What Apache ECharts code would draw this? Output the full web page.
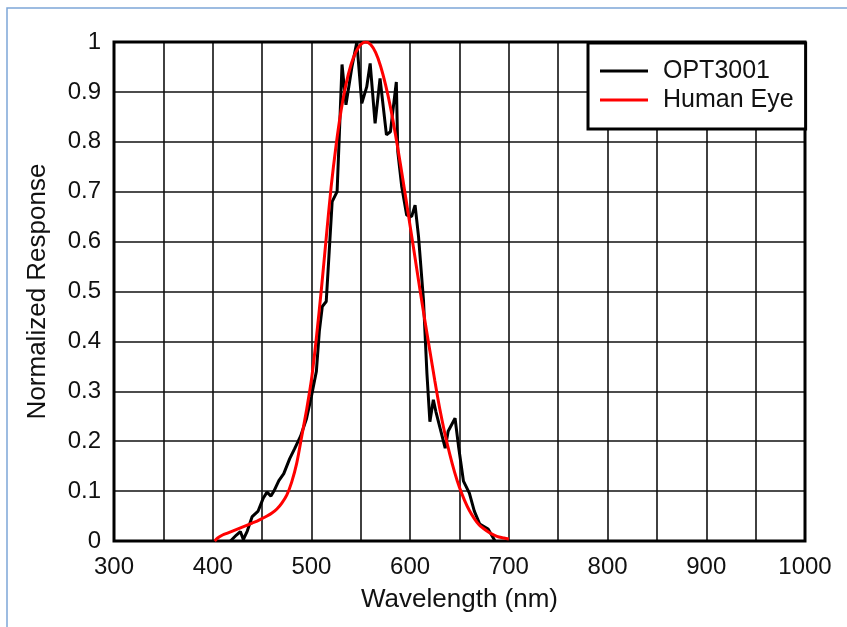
<!DOCTYPE html>
<html>
<head>
<meta charset="utf-8">
<script src="https://cdn.jsdelivr.net/npm/echarts@6/dist/echarts.min.js"></script>
<style>html,body{margin:0;padding:0;background:#fff;}#c{width:847px;height:627px;}</style>
</head>
<body>
<div id="c"></div>
<script>
// OPT3001 measured response (wavelength nm, normalized value)
const optWavelength = [418, 424, 428, 431, 435, 440, 446, 451, 455, 459, 462, 467, 472, 478, 483, 489, 495, 500, 505, 508, 511, 515, 518, 521, 526, 528, 531, 535, 541, 546, 551, 556, 559.5, 564.5, 569.5, 576, 580, 586, 587.5, 591.5, 596.5, 601.5, 605, 608.5, 613.5, 617, 620, 623.5, 626, 635.5, 638.5, 645.5, 649, 654, 660, 665, 670.5, 679, 686];
const optResponse   = [0.0, 0.012, 0.019, 0.003, 0.02, 0.049, 0.06, 0.085, 0.098, 0.09, 0.1, 0.121, 0.135, 0.165, 0.185, 0.21, 0.245, 0.29, 0.34, 0.42, 0.47, 0.48, 0.58, 0.68, 0.70, 0.80, 0.955, 0.874, 0.95, 1.0, 0.877, 0.91, 0.957, 0.837, 0.927, 0.814, 0.82, 0.92, 0.78, 0.71, 0.653, 0.65, 0.673, 0.61, 0.483, 0.336, 0.239, 0.283, 0.26, 0.186, 0.22, 0.246, 0.19, 0.12, 0.096, 0.06, 0.034, 0.024, 0.0];
// Human eye (photopic) response
const eyeWavelength = [402, 405, 410, 415, 420, 425, 430, 435, 440, 445, 450, 455, 460, 465, 470, 475, 480, 485, 490, 495, 500, 505, 510, 515, 520, 525, 530, 535, 540, 545, 550, 555, 560, 565, 570, 575, 580, 585, 590, 595, 600, 605, 610, 615, 620, 625, 630, 635, 640, 645, 650, 655, 660, 665, 670, 675, 680, 685, 690, 695, 700];
const eyeResponse   = [0.0, 0.006, 0.012, 0.016, 0.02, 0.024, 0.028, 0.032, 0.036, 0.04, 0.045, 0.05, 0.056, 0.064, 0.076, 0.092, 0.118, 0.155, 0.208, 0.262, 0.323, 0.407, 0.503, 0.608, 0.71, 0.793, 0.862, 0.915, 0.954, 0.98, 0.995, 1.0, 0.995, 0.979, 0.952, 0.915, 0.87, 0.816, 0.757, 0.695, 0.631, 0.567, 0.503, 0.441, 0.381, 0.321, 0.265, 0.217, 0.175, 0.138, 0.107, 0.082, 0.061, 0.045, 0.032, 0.024, 0.017, 0.012, 0.008, 0.006, 0.004];
const xTicks = [300, 400, 500, 600, 700, 800, 900, 1000];
const seriesNames = ['OPT3001', 'Human Eye'];

const FONT = 'Liberation Sans, Arial, sans-serif';
const chart = echarts.init(document.getElementById('c'), null, {renderer: 'canvas'});
const zip = (a, b) => a.map((v, i) => [v, b[i]]);
chart.setOption({
  animation: false,
  backgroundColor: '#fff',
  graphic: [{
    type: 'rect', shape: {x: 7, y: 8, width: 900, height: 700},
    style: {fill: 'none', stroke: '#7ea7d8', lineWidth: 1.5}, z: -1
  }],
  grid: {left: 114, right: 42, top: 42, bottom: 86, show: true, borderColor: '#000', borderWidth: 3, backgroundColor: 'transparent', z: 3},
  legend: {
    data: seriesNames, orient: 'vertical', left: 588, top: 43,
    padding: [15, 12, 16, 12], itemWidth: 48, itemHeight: 3, itemGap: 3, icon: 'rect',
    borderColor: '#000', borderWidth: 3, backgroundColor: '#fff',
    textStyle: {fontFamily: FONT, fontSize: 25, color: '#111', lineHeight: 26, padding: [0, 0, 0, 10]}
  },
  xAxis: {
    type: 'value', min: 300, max: 1000, interval: 50,
    name: 'Wavelength (nm)', nameLocation: 'middle', nameGap: 46,
    nameTextStyle: {fontFamily: FONT, fontSize: 26, color: '#111'},
    axisLine: {show: false}, axisTick: {show: false},
    axisLabel: {margin: 14, fontFamily: FONT, fontSize: 24, color: '#111',
      formatter: v => xTicks.includes(v) ? String(v) : ''},
    splitLine: {show: true, lineStyle: {color: '#111', width: 1.6}}
  },
  yAxis: {
    type: 'value', min: 0, max: 1, interval: 0.1,
    name: 'Normalized Response', nameLocation: 'middle', nameGap: 63, nameRotate: 90,
    nameTextStyle: {fontFamily: FONT, fontSize: 26, color: '#111'},
    axisLine: {show: false}, axisTick: {show: false},
    axisLabel: {margin: 13, fontFamily: FONT, fontSize: 24, color: '#111',
      formatter: v => String(+v.toFixed(1))},
    splitLine: {show: true, lineStyle: {color: '#111', width: 1.6}}
  },
  series: [
    {name: seriesNames[0], type: 'line', data: zip(optWavelength, optResponse), symbol: 'none',
     lineStyle: {color: '#000', width: 3}, itemStyle: {color: '#000'}, z: 4},
    {name: seriesNames[1], type: 'line', data: zip(eyeWavelength, eyeResponse), symbol: 'none',
     smooth: 0.3,
     lineStyle: {color: '#ff0000', width: 3}, itemStyle: {color: '#ff0000'}, z: 5}
  ]
});
</script>
</body>
</html>
